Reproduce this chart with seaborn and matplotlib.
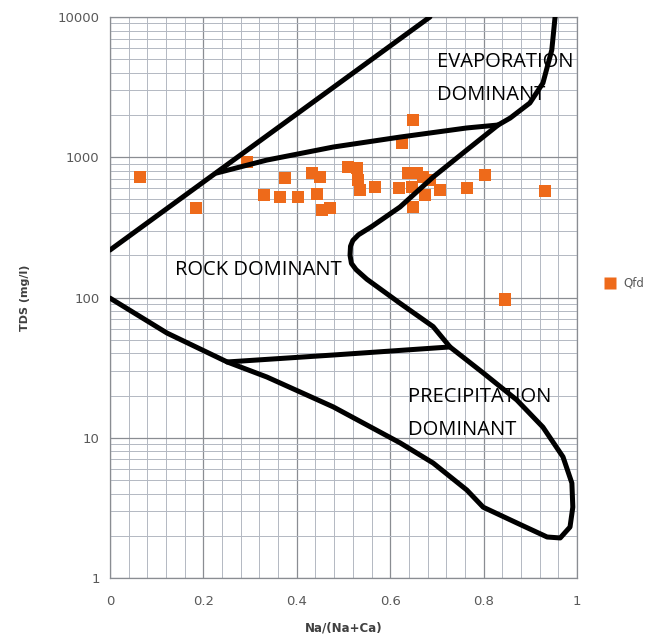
import numpy as np
import pandas as pd
import seaborn as sns
import matplotlib.pyplot as plt
from matplotlib.ticker import FixedLocator, LogLocator, FuncFormatter, NullFormatter, MultipleLocator

# sample points (Qfd)
na_ratio = [0.064, 0.184, 0.293, 0.330, 0.375, 0.364, 0.403, 0.433, 0.450, 0.443,
            0.454, 0.471, 0.510, 0.529, 0.531, 0.535, 0.567, 0.619, 0.638, 0.657,
            0.647, 0.649, 0.670, 0.707, 0.764, 0.803, 0.931, 0.649, 0.625, 0.846,
            0.685, 0.675]
tds = [723, 435, 925, 538, 711, 521, 521, 772, 723, 547,
       421, 435, 851, 838, 688, 585, 614, 604, 772, 772,
       614, 442, 723, 585, 604, 747, 574, 1845, 1264, 97,
       688, 538]
group = ["Qfd"] * len(tds)

# Gibbs boundary lines
upper_x = [0.0, 0.685]
upper_y = [218, 10000]

evap_x = [0.229, 0.336, 0.478, 0.621, 0.764, 0.831]
evap_y = [773, 955, 1183, 1393, 1618, 1698]

curve_x = [0.953, 0.946, 0.927, 0.899, 0.857, 0.831, 0.764, 0.692, 0.621, 0.560,
           0.532, 0.520, 0.515, 0.514, 0.517, 0.527, 0.550, 0.621, 0.692, 0.728,
           0.799, 0.871, 0.927, 0.970, 0.989, 0.991, 0.985, 0.964, 0.936, 0.871,
           0.799, 0.764, 0.692, 0.621, 0.478, 0.336, 0.251, 0.122, 0.0]
curve_y = [10000, 5821, 3381, 2438, 1905, 1698, 1127, 723, 442, 320,
           280, 255, 232, 200, 175, 158, 135, 91, 62, 44.4,
           29, 18.6, 11.9, 7.3, 4.75, 3.2, 2.31, 1.93, 1.96, 2.47,
           3.2, 4.24, 6.6, 9.2, 16.6, 27.1, 34.7, 55.8, 99]

precip_x = [0.251, 0.478, 0.728]
precip_y = [34.7, 38.9, 44.4]

df = pd.DataFrame({"x": na_ratio, "tds": tds, "group": group})

sns.set_style("white")
plt.rcParams["font.family"] = ["DejaVu Sans"]

fig = plt.figure(figsize=(6.65, 6.42), dpi=100)
ax = fig.add_axes([0.1654, 0.0997, 0.7023, 0.8738])

ax.set_yscale("log")
ax.set_xlim(0, 1)
ax.set_ylim(1, 10000)

sns.scatterplot(data=df, x="x", y="tds", hue="group", palette=["#EE6A1A"],
                marker="s", s=80, edgecolor="none", ax=ax, zorder=3)

for xs, ys in [(upper_x, upper_y), (evap_x, evap_y), (curve_x, curve_y), (precip_x, precip_y)]:
    ax.plot(xs, ys, color="black", lw=3.6, solid_joinstyle="round",
            solid_capstyle="round", zorder=5)

lab = dict(fontsize=14.5, family="Open Sans", color="black", va="baseline", zorder=2)
ax.text(0.700, 4395, "EVAPORATION", **lab)
ax.text(0.700, 2558, "DOMINANT", **lab)
ax.text(0.140, 144.5, "ROCK DOMINANT", **lab)
ax.text(0.638, 18.0, "PRECIPITATION", **lab)
ax.text(0.638, 10.5, "DOMINANT", **lab)

# grid
ax.xaxis.set_major_locator(MultipleLocator(0.2))
ax.xaxis.set_minor_locator(MultipleLocator(0.04))
ax.yaxis.set_major_locator(FixedLocator([1, 10, 100, 1000, 10000]))
ax.yaxis.set_minor_locator(LogLocator(base=10, subs=np.arange(2, 10)))
ax.yaxis.set_minor_formatter(NullFormatter())
ax.yaxis.set_major_formatter(FuncFormatter(lambda v, p: f"{int(round(v))}"))
ax.xaxis.set_major_formatter(FuncFormatter(lambda v, p: f"{round(v, 1):g}"))
ax.grid(which="major", color="#8a8d92", lw=0.9)
ax.grid(which="minor", color="#b3b8c2", lw=0.7)
ax.set_axisbelow(True)

ax.tick_params(which="major", length=4, color="#8a8d92", labelsize=9.5,
               labelcolor="#595959", direction="out")
ax.tick_params(which="minor", length=0)
ax.tick_params(axis="x", pad=8)
for sp in ax.spines.values():
    sp.set_color("#8a8d92")
    sp.set_linewidth(0.9)

ax.set_xlabel("Na/(Na+Ca)", fontsize=8.5, fontweight="bold", color="#404040", labelpad=10)
ax.set_ylabel("TDS (mg/l)", fontsize=8, fontweight="bold", color="#404040", labelpad=20)

leg = ax.legend(loc="center left", bbox_to_anchor=(1.035, 0.525), frameon=False,
                fontsize=8.5, handletextpad=0.1, borderaxespad=0, markerscale=0.9)
for t in leg.get_texts():
    t.set_color("#595959")

fig.savefig("out.png", dpi=100)
